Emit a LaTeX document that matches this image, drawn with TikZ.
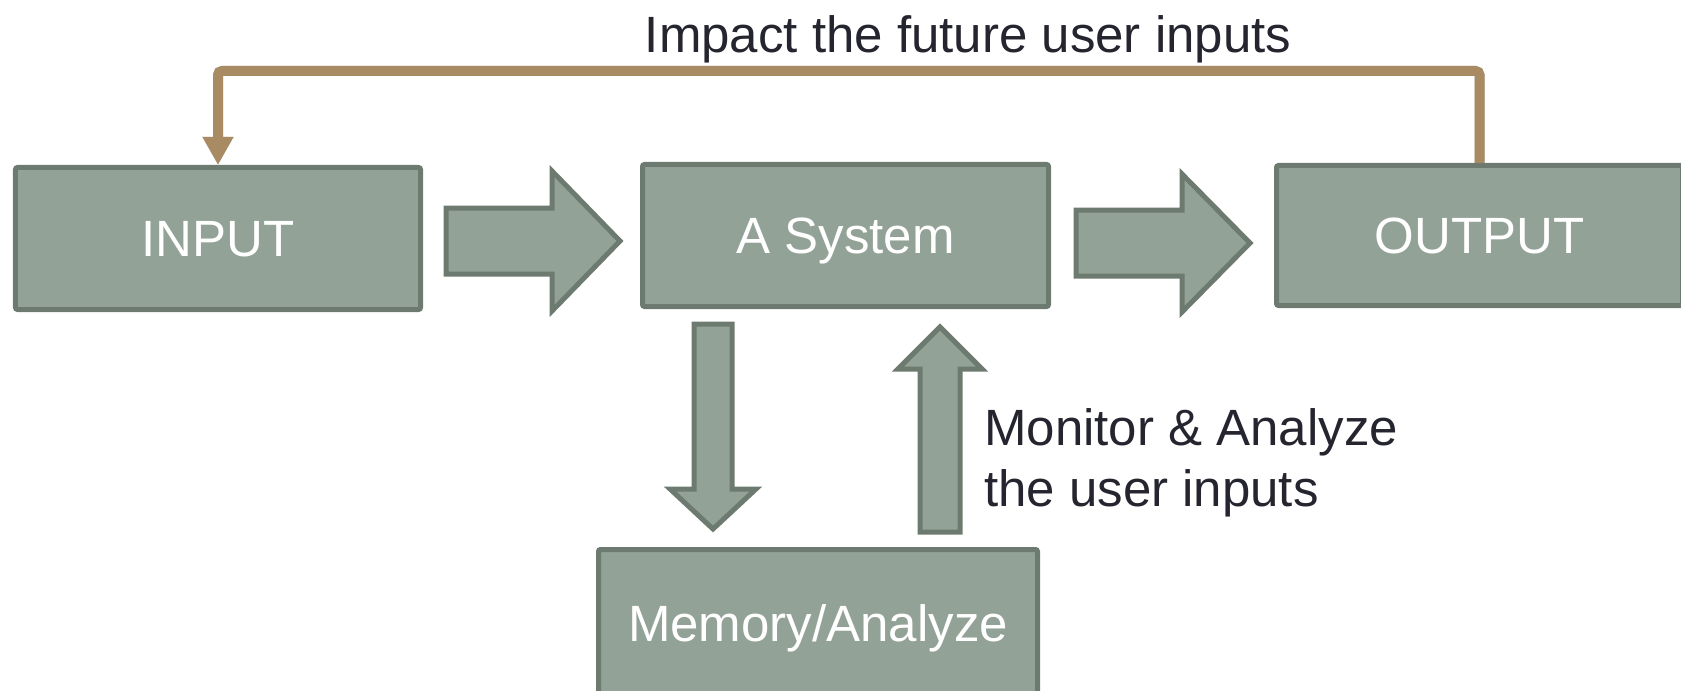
\documentclass[tikz,border=0pt]{standalone}
\usepackage{fontspec}
\setmainfont{Liberation Sans}
\usetikzlibrary{arrows.meta,calc}
\definecolor{boxfill}{HTML}{93A297}
\definecolor{boxline}{HTML}{6D7A6F}
\definecolor{brown}{HTML}{A98B63}
\definecolor{txt}{HTML}{25252F}
\tikzset{
  sysbox/.style={draw=boxline, fill=boxfill, line width=5bp, rounded corners=2bp,
    inner sep=0pt, text depth=0pt, text=white, font=\fontsize{51bp}{61bp}\selectfont},
  blockarrow/.style={draw=boxline, fill=boxfill, line width=5bp, line join=miter},
  lbl/.style={text=txt, inner sep=0pt, font=\fontsize{51bp}{61bp}\selectfont},
  feedback/.style={draw=brown, line width=10bp, rounded corners=4bp,
    -{Triangle[width=29bp,length=28bp]}},
  fbshadow/.style={draw=black, opacity=0.2, line width=10bp, rounded corners=4bp,
    -{Triangle[width=29bp,length=28bp]}}
}
\begin{document}
\begin{tikzpicture}[x=1bp,y=-1bp]
\useasboundingbox (0,0) rectangle (1681,691);
% boxes
\node[sysbox, minimum width=405bp, minimum height=142bp] (input) at (218,238.5) {INPUT};
\node[sysbox, minimum width=406bp, minimum height=142bp] (system) at (845.5,235.5) {A System};
\node[sysbox, minimum width=406bp, minimum height=140bp] (output) at (1479.5,235.5) {OUTPUT};
\node[sysbox, minimum width=439bp, minimum height=147bp] (memory) at (818,623) {Memory/Analyze};
% block arrows
\draw[blockarrow] (446,208) -- (552,208) -- (552,171) -- (620,241) -- (552,311) -- (552,274) -- (446,274) -- cycle;
\draw[blockarrow] (1076,210) -- (1182,210) -- (1182,174) -- (1250,243) -- (1182,312) -- (1182,276) -- (1076,276) -- cycle;
\draw[blockarrow] (694,324) -- (732,324) -- (732,489) -- (756,489) -- (713,529) -- (670,489) -- (694,489) -- cycle;
\draw[blockarrow] (920,532) -- (960,532) -- (960,369) -- (982,369) -- (940,327) -- (898,369) -- (920,369) -- cycle;
% feedback connector
\coordinate (top) at (0,71);
\draw[fbshadow, shift={(3,3)}] (output.north) -- (output.north |- top) -- (input.north |- top) -- (input.north);
\draw[feedback] (output.north) -- (output.north |- top) -- (input.north |- top) -- (input.north);
% labels
\node[lbl, anchor=base] (impact) at (968,52.5) {Impact the future user inputs};
\node[lbl, anchor=base west, align=left] (monitor) at (984,506) {Monitor \& Analyze\\the user inputs};
\end{tikzpicture}
\end{document}
